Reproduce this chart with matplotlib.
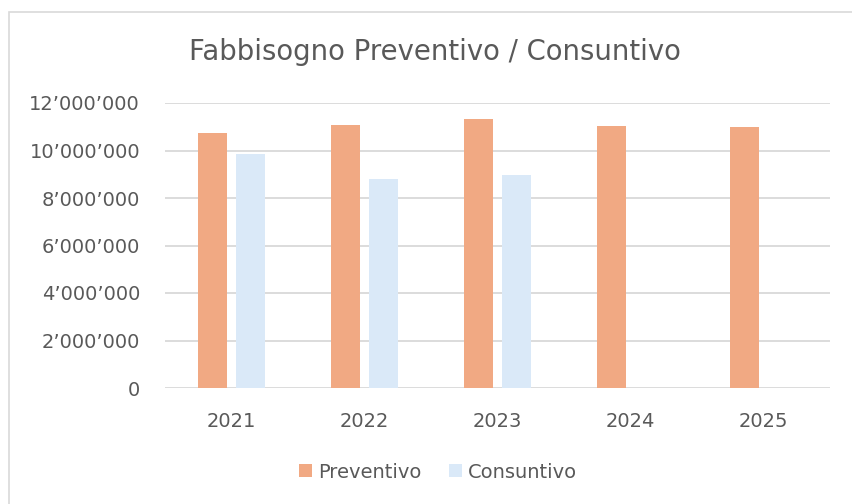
import matplotlib.pyplot as plt
import numpy as np
from matplotlib.patches import Rectangle
from matplotlib.ticker import FuncFormatter

# Fabbisogno per anno
anni = ['2021', '2022', '2023', '2024', '2025']
preventivo = [10720000, 11080000, 11320000, 11030000, 11000000]
consuntivo = [9860000, 8780000, 8950000, 0, 0]

arancio = '#F1A983'
azzurro = '#DAE9F8'
grigio_testo = '#595959'
griglia = '#D9D9D9'

plt.rcParams['font.family'] = ['DejaVu Sans']

fig = plt.figure(figsize=(8.52, 5.04), dpi=100)
ax = fig.add_axes([165 / 852, 116 / 504, 665 / 852, 285 / 504])

# cornice del grafico
fig.patches.append(Rectangle((9 / 852, -0.1), 1.0, (504 - 11.5) / 504 + 0.1,
                             transform=fig.transFigure, fill=False,
                             edgecolor='#D9D9D9', linewidth=1.2))

x = np.arange(len(anni))
w = 0.225
off = 0.143
ax.bar(x - off, preventivo, w, color=arancio, label='Preventivo', zorder=3)
ax.bar(x + off, consuntivo, w, color=azzurro, label='Consuntivo', zorder=3)

ax.set_xlim(-0.5, len(anni) - 0.5)
ax.set_ylim(0, 12000000)
ax.set_yticks(np.arange(0, 12000001, 2000000))
ax.yaxis.set_major_formatter(FuncFormatter(lambda v, p: f'{int(v):,}'.replace(',', '\u2019')))
ax.set_xticks(x)
ax.set_xticklabels(anni)

ax.grid(axis='y', color=griglia, linewidth=1.3, zorder=0)
for s in ax.spines.values():
    s.set_visible(False)
ax.tick_params(axis='both', length=0, labelsize=14, colors=grigio_testo)
ax.tick_params(axis='y', pad=18)
ax.tick_params(axis='x', pad=17)

fig.text(435 / 852, 1 - 60.5 / 504, 'Fabbisogno Preventivo / Consuntivo',
         ha='center', va='baseline', fontsize=19.8, color=grigio_testo)

fig.legend(loc='center', bbox_to_anchor=(438 / 852, 1 - 472 / 504), ncol=2,
           frameon=False, fontsize=14, labelcolor=grigio_testo,
           handlelength=0.68, handleheight=0.68, handletextpad=0.3, columnspacing=1.4)

fig.savefig('out.png', dpi=100)
